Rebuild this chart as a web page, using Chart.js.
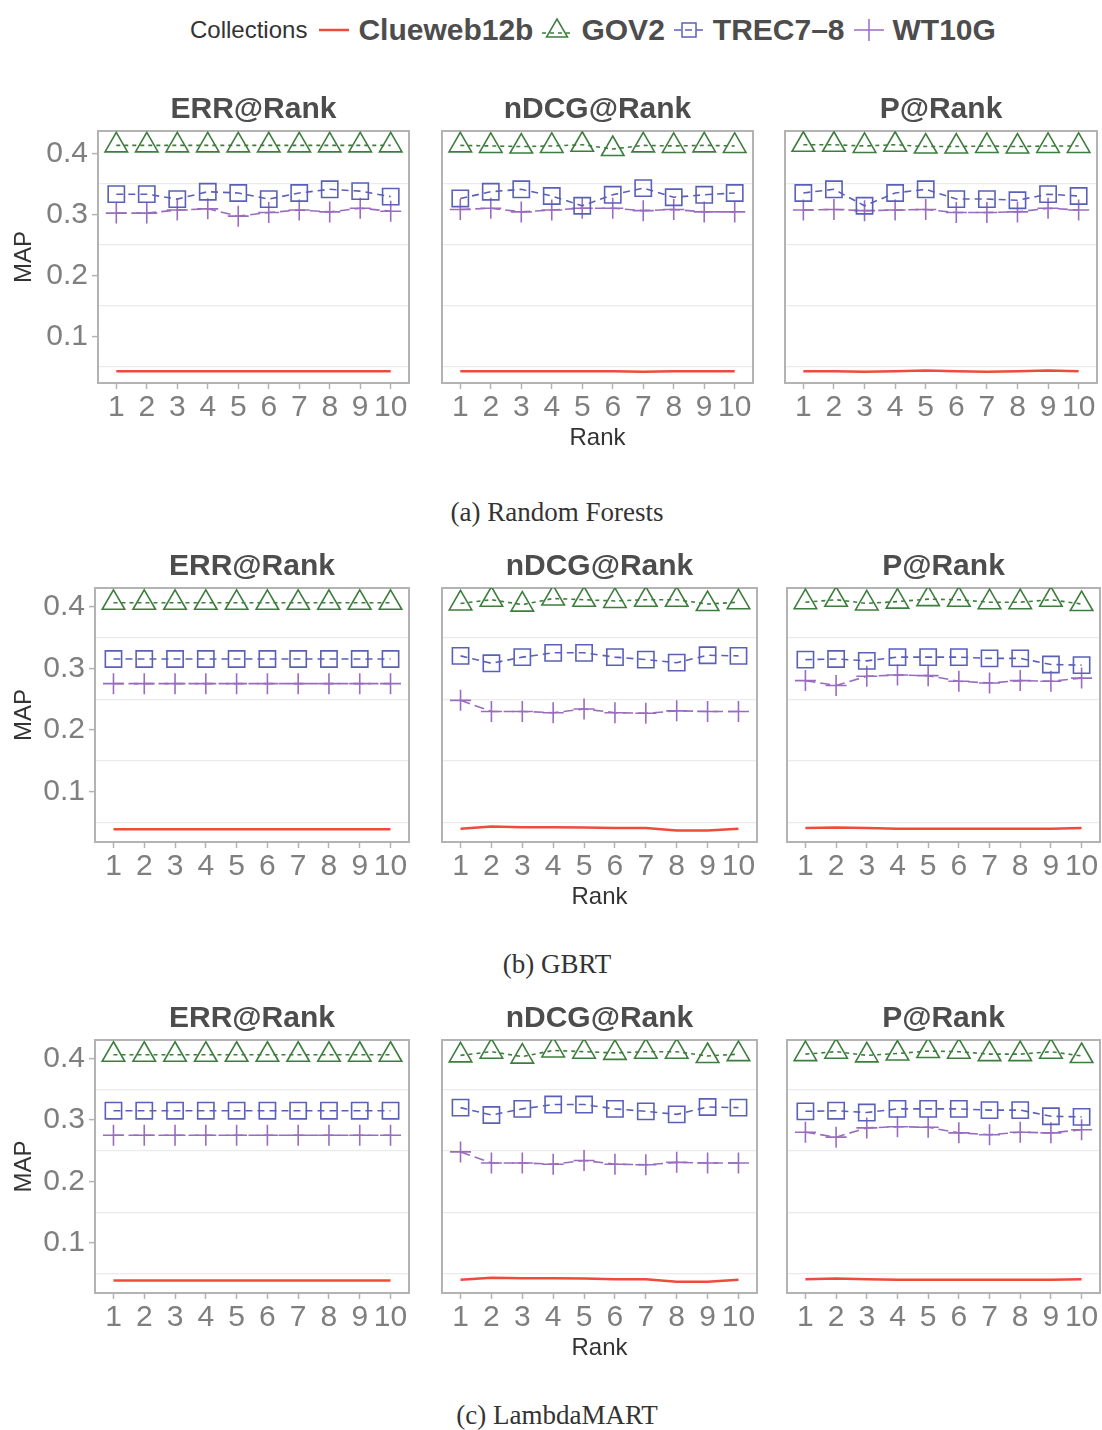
<!DOCTYPE html>
<html>
<head>
<meta charset="utf-8">
<script src="https://cdn.jsdelivr.net/npm/chart.js@4.4.1/dist/chart.umd.min.js"></script>
<style>
  body { margin: 0; background: #fff; width: 1102px; height: 1430px; position: relative; overflow: hidden; font-family: "Liberation Sans", Arial, sans-serif; }
  .panel { position: absolute; }
  #legend { position: absolute; left: 190px; top: 12px; height: 36px; display: flex; align-items: center; white-space: nowrap; }
  #legend .ttl { font-size: 24px; color: #333; margin-right: 10px; }
  #legend .lab { font-size: 30px; font-weight: bold; color: #4d4d4d; margin-right: 7px; }
  #legend svg { margin-right: 7px; }
  .cap { position: absolute; left: 0; width: 1114px; text-align: center; font-family: "Liberation Serif", "DejaVu Serif", serif; font-size: 27px; color: #333; }
</style>
</head>
<body>
<div id="legend">
  <span class="ttl">Collections</span>
  <svg width="34" height="30"><line x1="2" y1="15" x2="32" y2="15" stroke="#ee4b3b" stroke-width="2.5"/></svg>
  <span class="lab">Clueweb12b</span>
  <svg width="34" height="30"><line x1="2" y1="18" x2="32" y2="18" stroke="#3d7d3d" stroke-width="1.5" stroke-dasharray="4,4"/><polygon points="17,4 27.5,22 6.5,22" fill="none" stroke="#3d7d3d" stroke-width="1.5"/></svg>
  <span class="lab">GOV2</span>
  <svg width="34" height="30"><line x1="2" y1="15" x2="32" y2="15" stroke="#5a60b8" stroke-width="1.5" stroke-dasharray="7,4"/><rect x="10" y="8" width="14" height="14" fill="none" stroke="#5a60b8" stroke-width="1.5"/></svg>
  <span class="lab">TREC7–8</span>
  <svg width="34" height="30"><line x1="2" y1="15" x2="32" y2="15" stroke="#9a6cc0" stroke-width="1.5"/><line x1="17" y1="4" x2="17" y2="26" stroke="#9a6cc0" stroke-width="1.5"/></svg>
  <span class="lab">WT10G</span>
</div>
<div id="panels"></div>
<div class="cap" style="top:497px">(a) Random Forests</div>
<div class="cap" style="top:949px">(b) GBRT</div>
<div class="cap" style="top:1400px">(c) LambdaMART</div>

<script>
const ranks = [1, 2, 3, 4, 5, 6, 7, 8, 9, 10];
const collections = ['Clueweb12b', 'GOV2', 'TREC7–8', 'WT10G'];
const metrics = ['ERR@Rank', 'nDCG@Rank', 'P@Rank'];
const yTicks = [0.05, 0.1, 0.15, 0.2, 0.25, 0.3, 0.35, 0.4];

// (a) Random Forests
const rfErrClueweb = [0.043, 0.043, 0.043, 0.043, 0.043, 0.043, 0.043, 0.043, 0.043, 0.043];
const rfErrGov2    = [0.413, 0.413, 0.413, 0.413, 0.413, 0.413, 0.413, 0.413, 0.413, 0.413];
const rfErrTrec    = [0.333, 0.333, 0.325, 0.337, 0.335, 0.325, 0.335, 0.341, 0.338, 0.329];
const rfErrWt10g   = [0.302, 0.302, 0.307, 0.309, 0.297, 0.303, 0.307, 0.304, 0.310, 0.305];

const rfNdcgClueweb = [0.043, 0.043, 0.043, 0.043, 0.043, 0.043, 0.042, 0.043, 0.043, 0.043];
const rfNdcgGov2    = [0.413, 0.412, 0.411, 0.412, 0.414, 0.407, 0.413, 0.412, 0.413, 0.412];
const rfNdcgTrec    = [0.326, 0.337, 0.341, 0.330, 0.314, 0.332, 0.343, 0.328, 0.332, 0.335];
const rfNdcgWt10g   = [0.308, 0.310, 0.304, 0.307, 0.310, 0.310, 0.306, 0.308, 0.304, 0.304];

const rfPClueweb = [0.043, 0.043, 0.042, 0.043, 0.044, 0.043, 0.042, 0.043, 0.044, 0.043];
const rfPGov2    = [0.414, 0.414, 0.412, 0.414, 0.411, 0.411, 0.412, 0.411, 0.412, 0.412];
const rfPTrec    = [0.335, 0.341, 0.314, 0.335, 0.341, 0.325, 0.325, 0.323, 0.333, 0.330];
const rfPWt10g   = [0.307, 0.308, 0.306, 0.307, 0.308, 0.303, 0.303, 0.304, 0.310, 0.307];

// (b) GBRT
const gbErrClueweb = [0.039, 0.039, 0.039, 0.039, 0.039, 0.039, 0.039, 0.039, 0.039, 0.039];
const gbErrGov2    = [0.406, 0.406, 0.406, 0.406, 0.406, 0.406, 0.406, 0.406, 0.406, 0.406];
const gbErrTrec    = [0.315, 0.315, 0.315, 0.315, 0.315, 0.315, 0.315, 0.315, 0.315, 0.315];
const gbErrWt10g   = [0.275, 0.275, 0.275, 0.275, 0.275, 0.275, 0.275, 0.275, 0.275, 0.275];

const gbNdcgClueweb = [0.040, 0.0435, 0.0425, 0.0425, 0.042, 0.041, 0.041, 0.037, 0.037, 0.040];
const gbNdcgGov2    = [0.405, 0.411, 0.403, 0.413, 0.411, 0.409, 0.411, 0.411, 0.404, 0.407];
const gbNdcgTrec    = [0.320, 0.308, 0.318, 0.325, 0.325, 0.318, 0.314, 0.309, 0.321, 0.320];
const gbNdcgWt10g   = [0.248, 0.230, 0.230, 0.228, 0.234, 0.228, 0.227, 0.231, 0.230, 0.230];

const gbPClueweb = [0.041, 0.042, 0.041, 0.040, 0.040, 0.040, 0.040, 0.040, 0.040, 0.041];
const gbPGov2    = [0.407, 0.411, 0.405, 0.408, 0.412, 0.411, 0.407, 0.407, 0.411, 0.404];
const gbPTrec    = [0.314, 0.315, 0.312, 0.318, 0.318, 0.318, 0.316, 0.316, 0.306, 0.305];
const gbPWt10g   = [0.280, 0.272, 0.287, 0.289, 0.288, 0.279, 0.276, 0.280, 0.279, 0.284];

// (c) LambdaMART
const lmErrClueweb = [0.039, 0.039, 0.039, 0.039, 0.039, 0.039, 0.039, 0.039, 0.039, 0.039];
const lmErrGov2    = [0.406, 0.406, 0.406, 0.406, 0.406, 0.406, 0.406, 0.406, 0.406, 0.406];
const lmErrTrec    = [0.315, 0.315, 0.315, 0.315, 0.315, 0.315, 0.315, 0.315, 0.315, 0.315];
const lmErrWt10g   = [0.275, 0.275, 0.275, 0.275, 0.275, 0.275, 0.275, 0.275, 0.275, 0.275];

const lmNdcgClueweb = [0.040, 0.0435, 0.0425, 0.0425, 0.042, 0.041, 0.041, 0.037, 0.037, 0.040];
const lmNdcgGov2    = [0.405, 0.411, 0.403, 0.413, 0.411, 0.409, 0.411, 0.411, 0.404, 0.407];
const lmNdcgTrec    = [0.320, 0.308, 0.318, 0.325, 0.325, 0.318, 0.314, 0.309, 0.321, 0.320];
const lmNdcgWt10g   = [0.248, 0.230, 0.230, 0.228, 0.234, 0.228, 0.227, 0.231, 0.230, 0.230];

const lmPClueweb = [0.041, 0.042, 0.041, 0.040, 0.040, 0.040, 0.040, 0.040, 0.040, 0.041];
const lmPGov2    = [0.407, 0.411, 0.405, 0.408, 0.412, 0.411, 0.407, 0.407, 0.411, 0.404];
const lmPTrec    = [0.314, 0.315, 0.312, 0.318, 0.318, 0.318, 0.316, 0.316, 0.306, 0.305];
const lmPWt10g   = [0.280, 0.272, 0.287, 0.289, 0.288, 0.279, 0.276, 0.280, 0.279, 0.284];

const panelData = [
  [[rfErrClueweb, rfErrGov2, rfErrTrec, rfErrWt10g],
   [rfNdcgClueweb, rfNdcgGov2, rfNdcgTrec, rfNdcgWt10g],
   [rfPClueweb, rfPGov2, rfPTrec, rfPWt10g]],
  [[gbErrClueweb, gbErrGov2, gbErrTrec, gbErrWt10g],
   [gbNdcgClueweb, gbNdcgGov2, gbNdcgTrec, gbNdcgWt10g],
   [gbPClueweb, gbPGov2, gbPTrec, gbPWt10g]],
  [[lmErrClueweb, lmErrGov2, lmErrTrec, lmErrWt10g],
   [lmNdcgClueweb, lmNdcgGov2, lmNdcgTrec, lmNdcgWt10g],
   [lmPClueweb, lmPGov2, lmPTrec, lmPWt10g]]
];

// layout of the facet rows (pixel boxes of the plot areas)
const rows = [
  { top: 131, bottom: 383, ymin: 0.0237, ymax: 0.4365, cols: [[98, 409], [442, 753], [785, 1097]] },
  { top: 588, bottom: 842, ymin: 0.0185, ymax: 0.430, cols: [[95, 409], [442, 757], [787, 1100]] },
  { top: 1040, bottom: 1293, ymin: 0.0185, ymax: 0.430, cols: [[95, 409], [442, 757], [787, 1100]] }
];

const styles = [
  { color: '#ee4b3b', dash: [], width: 2.5, point: false, radius: 0 },
  { color: '#3d7d3d', dash: [4, 4], width: 1.6, point: 'triangle', radius: 13 },
  { color: '#5a60b8', dash: [7, 5], width: 1.6, point: 'rect', radius: 11.5 },
  { color: '#9a6cc0', dash: [10, 5], width: 1.6, point: 'cross', radius: 10.5 }
];

const isMinor = v => Math.round(v * 100) % 10 === 5;
const TITLE_H = 53, XAXIS_H = 70, PAD = 22;

const frame = {
  id: 'frame',
  beforeDatasetsDraw(chart) {
    const a = chart.chartArea, ctx = chart.ctx;
    ctx.save();
    ctx.strokeStyle = '#b3b3b3';
    ctx.lineWidth = 2;
    ctx.strokeRect(a.left, a.top, a.right - a.left, a.bottom - a.top);
    ctx.restore();
  }
};

const holder = document.getElementById('panels');
rows.forEach((row, r) => {
  row.cols.forEach((c, k) => {
    const left = k === 0 ? 0 : c[0] - PAD;
    const div = document.createElement('div');
    div.className = 'panel';
    div.style.left = left + 'px';
    div.style.top = (row.top - TITLE_H) + 'px';
    div.style.width = (c[1] + PAD - left) + 'px';
    div.style.height = (row.bottom - row.top + TITLE_H + XAXIS_H) + 'px';
    const cv = document.createElement('canvas');
    div.appendChild(cv);
    holder.appendChild(div);

    const datasets = panelData[r][k].map((vals, i) => ({
      label: collections[i],
      data: vals.map((v, j) => ({ x: ranks[j], y: v })),
      borderColor: styles[i].color,
      borderWidth: styles[i].width,
      borderDash: styles[i].dash,
      pointStyle: styles[i].point,
      pointRadius: styles[i].radius,
      pointBorderWidth: 1.6,
      pointBorderColor: styles[i].color,
      pointBackgroundColor: 'rgba(0,0,0,0)',
      fill: false,
      tension: 0
    }));

    new Chart(cv, {
      type: 'line',
      data: { datasets },
      plugins: [frame],
      options: {
        responsive: true,
        maintainAspectRatio: false,
        animation: false,
        layout: { padding: { left: k === 0 ? 0 : PAD, right: PAD, top: 0, bottom: 0 } },
        plugins: {
          legend: { display: false },
          tooltip: { enabled: false },
          title: {
            display: true,
            fullSize: false,
            text: metrics[k],
            color: '#4d4d4d',
            font: { family: 'Liberation Sans', size: 30, weight: 'bold' },
            padding: { top: 14, bottom: 3 }
          }
        },
        scales: {
          x: {
            type: 'linear',
            min: 0.4,
            max: 10.6,
            afterBuildTicks: s => { s.ticks = ranks.map(v => ({ value: v })); },
            afterFit: s => { s.height = XAXIS_H; },
            border: { display: false },
            grid: { drawOnChartArea: false, drawTicks: true, tickLength: 6, tickColor: '#b3b3b3', tickWidth: 1.5 },
            ticks: {
              autoSkip: false, maxRotation: 0, padding: 1,
              color: '#7f7f7f',
              font: { family: 'Liberation Sans', size: 30 },
              callback: v => String(v)
            },
            title: {
              display: k === 1,
              text: 'Rank',
              color: '#333',
              font: { family: 'Liberation Sans', size: 24 },
              padding: { top: 0, bottom: 0 }
            }
          },
          y: {
            min: row.ymin,
            max: row.ymax,
            afterBuildTicks: s => { s.ticks = yTicks.map(v => ({ value: v })); },
            afterFit: s => { s.width = k === 0 ? c[0] : 0; },
            border: { display: false },
            grid: {
              color: ctx => ctx.tick && isMinor(ctx.tick.value) ? '#ebebeb' : 'rgba(0,0,0,0)',
              lineWidth: 1.2,
              drawTicks: k === 0,
              tickLength: 6,
              tickColor: ctx => ctx.tick && isMinor(ctx.tick.value) ? 'rgba(0,0,0,0)' : '#b3b3b3',
              tickWidth: 1.5
            },
            ticks: {
              display: k === 0,
              autoSkip: false,
              padding: 4,
              color: '#7f7f7f',
              font: { family: 'Liberation Sans', size: 30 },
              callback: v => isMinor(v) ? '' : v.toFixed(1)
            },
            title: {
              display: k === 0,
              text: 'MAP',
              color: '#333',
              font: { family: 'Liberation Sans', size: 24 },
              padding: { top: 10, bottom: 0 }
            }
          }
        }
      }
    });
  });
});
</script>
</body>
</html>
